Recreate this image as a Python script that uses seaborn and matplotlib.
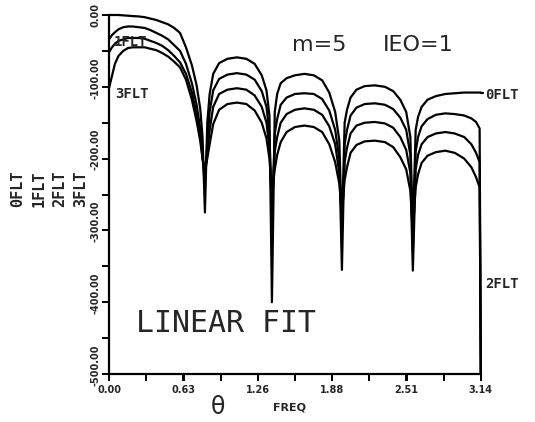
import seaborn as sns
import matplotlib.pyplot as plt
import matplotlib.transforms as mtransforms
import numpy as np
import pandas as pd

# frequency grid (rad), shared by all four curves
freq = [0.0, 0.025, 0.05, 0.08, 0.12, 0.16, 0.2, 0.25, 0.3, 0.35, 0.4, 0.45, 0.5, 0.55, 0.6, 0.65, 0.7, 0.74, 0.77, 0.79, 0.81,
        0.83, 0.85, 0.88, 0.93, 1.0, 1.08, 1.16, 1.23, 1.29, 1.33, 1.355, 1.376,
        1.40, 1.42, 1.45, 1.50, 1.57, 1.65, 1.73, 1.80, 1.86, 1.91, 1.945, 1.967,
        1.99, 2.01, 2.04, 2.09, 2.16, 2.245, 2.33, 2.40, 2.46, 2.51, 2.545, 2.566,
        2.59, 2.61, 2.64, 2.69, 2.76, 2.84, 2.92, 3.00, 3.06, 3.10, 3.13, 3.14]

flt0 = [0, 0, 0, 0, -0.5, -1, -1.5, -2, -3, -5, -7, -10, -13, -18, -25, -45, -70, -98, -130, -170, -275,
        -150, -110, -82, -67, -61, -59, -61, -68, -84, -105, -140, -400,
        -135, -110, -95, -88, -84, -82, -84, -91, -108, -135, -175, -300,
        -150, -132, -115, -104, -99, -98, -100, -106, -118, -135, -170, -300,
        -160, -142, -128, -118, -113, -110, -109, -108, -108, -108, -108, -108]

flt1 = [-34, -28, -24, -20, -17, -16, -16, -17, -18, -21, -25, -29, -34, -42, -50, -68, -95, -125, -158, -195, -240,
        -175, -135, -105, -89, -83, -81, -83, -90, -106, -128, -165, -285,
        -165, -145, -125, -115, -110, -109, -110, -117, -133, -160, -200, -355,
        -180, -160, -140, -129, -124, -123, -125, -131, -143, -160, -195, -330,
        -190, -170, -155, -145, -139, -137, -138, -140, -144, -149, -158, -500]

flt2 = [-52, -45, -40, -36, -34, -32, -32, -32, -33, -36, -39, -43, -49, -57, -66, -82, -108, -138, -165, -200, -225,
        -190, -160, -128, -110, -104, -102, -104, -112, -128, -150, -185, -265,
        -190, -170, -150, -138, -132, -130, -132, -139, -155, -180, -220, -290,
        -205, -185, -165, -154, -150, -149, -151, -157, -170, -188, -220, -356,
        -215, -195, -180, -170, -165, -163, -165, -170, -180, -192, -205, -500]

flt3 = [-102, -85, -68, -57, -50, -46, -45, -45, -45, -47, -49, -53, -58, -65, -73, -90, -118, -148, -175, -200, -215,
        -200, -180, -152, -132, -124, -122, -124, -133, -150, -172, -200, -250,
        -215, -195, -177, -163, -156, -154, -156, -163, -180, -205, -235, -275,
        -230, -212, -192, -181, -176, -175, -177, -184, -198, -215, -245, -300,
        -240, -222, -206, -196, -191, -189, -192, -200, -212, -226, -240, -500]

names = ['0FLT', '1FLT', '2FLT', '3FLT']
xticks_major = [0.00, 0.63, 1.26, 1.88, 2.51, 3.14]
yticks_major = [0, -100, -200, -300, -400, -500]

df = pd.concat([pd.DataFrame({'freq': freq, 'val': v, 'curve': n})
                for n, v in zip(names, [flt0, flt1, flt2, flt3])])

sns.set_style('white')
fig = plt.figure(figsize=(5.35, 4.22), dpi=100)
ax = fig.add_axes([109 / 535, 1 - 374 / 422, 372 / 535, 359 / 422])

sns.lineplot(data=df, x='freq', y='val', hue='curve', units='curve', estimator=None, sort=False,
             palette=['black'] * 4, linewidth=1.6, legend=False, ax=ax)
for ln in ax.lines:
    ln.set_clip_on(False)
    ln.set_solid_joinstyle('round')

ax.set_xlim(0, 3.14)
ax.set_ylim(-500, 0)
sns.despine(ax=ax)
for s in ['left', 'bottom']:
    ax.spines[s].set_color('black')
    ax.spines[s].set_linewidth(1.6)

ax.set_xticks(xticks_major)
ax.set_xticklabels(['%.2f' % t for t in xticks_major], fontsize=7, fontweight='bold')
ax.set_xticks(np.arange(0, 3.15, np.pi / 10), minor=True)
ax.set_yticks(yticks_major)
ax.set_yticklabels(['%.2f' % t for t in yticks_major], fontsize=7, fontweight='bold',
                   rotation=90, va='center')
ax.set_yticks(np.arange(-500, 1, 50), minor=True)
ax.tick_params(which='both', direction='out', length=5, width=1.4, color='black', left=True, bottom=True)
ax.tick_params(axis='x', pad=3)
ax.tick_params(axis='y', pad=1)
ax.set_xlabel('')
ax.set_ylabel('')

# y tick labels sit a little above their ticks in the original
shift = mtransforms.ScaledTranslation(0, 9 / 100, fig.dpi_scale_trans)
for lbl in ax.get_yticklabels()[1:]:
    lbl.set_transform(lbl.get_transform() + shift)

# curve labels
lab = dict(fontsize=10, fontweight='bold', va='center', family='DejaVu Sans Mono')
ax.text(0.04, -38, '1FLT', **lab)
ax.text(0.05, -110, '3FLT', **lab)
ax.plot([3.14, 3.16], [-108, -108], color='black', lw=1.6, clip_on=False)
ax.text(3.18, -112, '0FLT', clip_on=False, **lab)
ax.text(3.18, -375, '2FLT', clip_on=False, **lab)

ax.text(1.773, -42, 'm=5', fontsize=16, ha='center', va='center')
ax.text(2.608, -42, 'IEO=1', fontsize=16, ha='center', va='center')
ax.text(0.23, -429, 'LINEAR FIT', fontsize=21.5, family='DejaVu Sans Mono', va='center')

# y label: four stacked names
for i, n in enumerate(names):
    fig.text((18 + 21 * i) / 535, 1 - 189 / 422, n, rotation=90, fontsize=11, fontweight='bold',
             ha='center', va='center', family='DejaVu Sans Mono')

fig.text(218 / 535, 1 - 407 / 422, 'θ', fontsize=17, ha='center', va='center')
fig.text(290 / 535, 1 - 407 / 422, 'FREQ', fontsize=8, fontweight='bold', ha='center', va='center')

fig.savefig('out.png', dpi=100)
